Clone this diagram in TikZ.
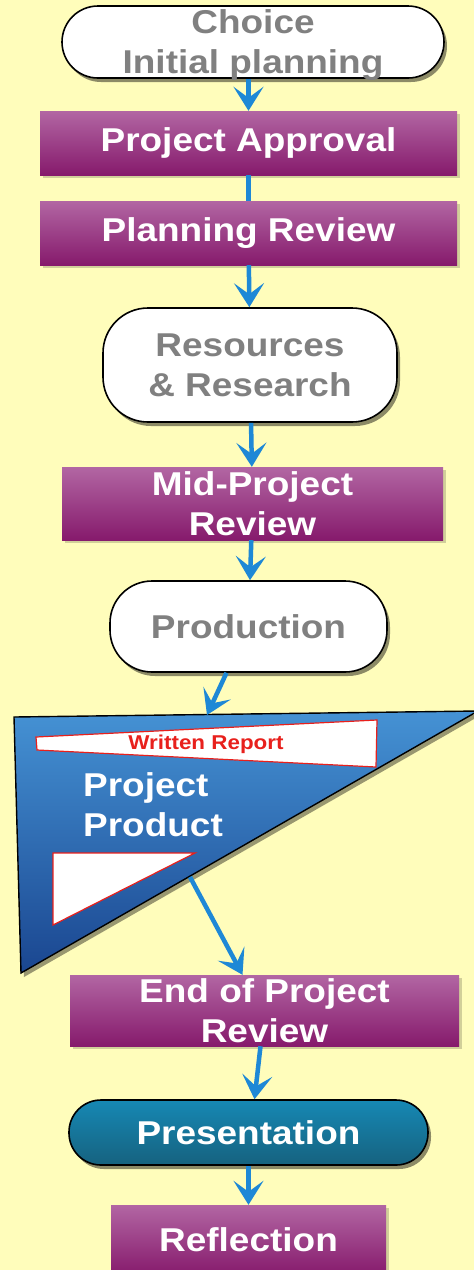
\documentclass[tikz,border=0pt]{standalone}
\usepackage{fontspec}
\setmainfont[FakeStretch=1.12]{Liberation Sans}
\usetikzlibrary{arrows.meta,shadows}
\definecolor{paper}{HTML}{FFFDBB}
\definecolor{plumtop}{HTML}{B266A3}
\definecolor{plumbot}{HTML}{861A6C}
\definecolor{tealtop}{HTML}{1688B4}
\definecolor{tealbot}{HTML}{16627F}
\definecolor{flowblue}{HTML}{1E88D6}
\definecolor{stagegray}{HTML}{808080}
\definecolor{reportred}{HTML}{E8201C}
\definecolor{bluetop}{HTML}{4592D4}
\definecolor{bluebot}{HTML}{1A4690}
\begin{document}
\begin{tikzpicture}[x=1pt,y=-1pt,
    txt/.style={font=\fontsize{33}{40}\selectfont\bfseries,align=center,inner sep=0pt},
    stage/.style={txt,draw=black,line width=1.6pt,fill=white,text=stagegray,
      drop shadow={shadow xshift=3pt,shadow yshift=-4pt,opacity=.45,fill=black}},
    review/.style={txt,text=white,top color=plumtop,bottom color=plumbot,
      drop shadow={shadow xshift=3pt,shadow yshift=-3pt,opacity=.18,fill=black}},
    talk/.style={txt,draw=black,line width=1.6pt,text=white,top color=tealtop,bottom color=tealbot,
      drop shadow={shadow xshift=3pt,shadow yshift=-4pt,opacity=.45,fill=black}},
    flow/.style={draw=flowblue,line width=4.5pt,-{Stealth[length=24pt,width=30pt,inset=11pt]}}]
  \useasboundingbox (0,0) rectangle (474,1270);
  \fill[paper] (0,0) rectangle (474,1270);
  % product triangle
  \filldraw[draw=black,line width=1.4pt,top color=bluetop,bottom color=bluebot,
    drop shadow={shadow xshift=3pt,shadow yshift=-4pt,opacity=.4,fill=black}]
    (14,717) -- (478,711) -- (21,973) -- cycle;
  \filldraw[draw=reportred,line width=1.2pt,fill=white]
    (36,737) -- (377,720) -- (376,767) -- (37,750) -- cycle;
  \filldraw[draw=reportred,line width=1.2pt,fill=white]
    (53,853) -- (195,853) -- (53,925) -- cycle;
  \coordinate (prodin) at (207,715);
  \coordinate (prodout) at (190,877);
  \path
    (253,42) node[stage,rounded corners=36pt,minimum width=382pt,minimum height=72pt,text depth=0pt] (choice) {Choice\\Initial planning}
    (248.5,143) node[review,minimum width=417pt,minimum height=64pt] (approval) {Project Approval}
    (248.5,233) node[review,minimum width=417pt,minimum height=64pt] (planning) {Planning Review}
    (250,365) node[stage,rounded corners=45pt,minimum width=294pt,minimum height=114pt] (resources) {Resources\\\& Research}
    (252.5,503.5) node[review,minimum width=381pt,minimum height=73pt] (mid) {Mid-Project\\Review}
    (248.5,626.5) node[stage,rounded corners=42pt,minimum width=277pt,minimum height=91pt] (production) {Production}
    (206,744) node[txt,font=\fontsize{20}{22}\selectfont\bfseries,text=reportred] (report) {Written Report}
    (83,805) node[txt,anchor=west,align=left,text=white] (product) {Project\\Product}
    (264.5,1010.5) node[review,minimum width=389pt,minimum height=71pt] (endrev) {End of Project\\Review}
    (248.5,1132.5) node[talk,rounded corners=32pt,minimum width=359pt,minimum height=65pt] (presentation) {Presentation}
    (248.5,1240) node[review,minimum width=275pt,minimum height=70pt] (reflection) {Reflection};
  \begin{scope}[flow]
    \draw (approval.north |- choice.south) to (approval.north);
    \draw[-] (approval) to (planning);
    \draw (planning) to (resources);
    \draw (resources) to (mid);
    \draw (mid) to (production);
    \draw ([xshift=-22pt]production.south) to (prodin);
    \draw (prodout) to ([xshift=-22pt]endrev.north);
    \draw ([xshift=-4pt]endrev.south) to ([xshift=6pt]presentation.north);
    \draw (presentation) to (reflection);
  \end{scope}
\end{tikzpicture}
\end{document}
